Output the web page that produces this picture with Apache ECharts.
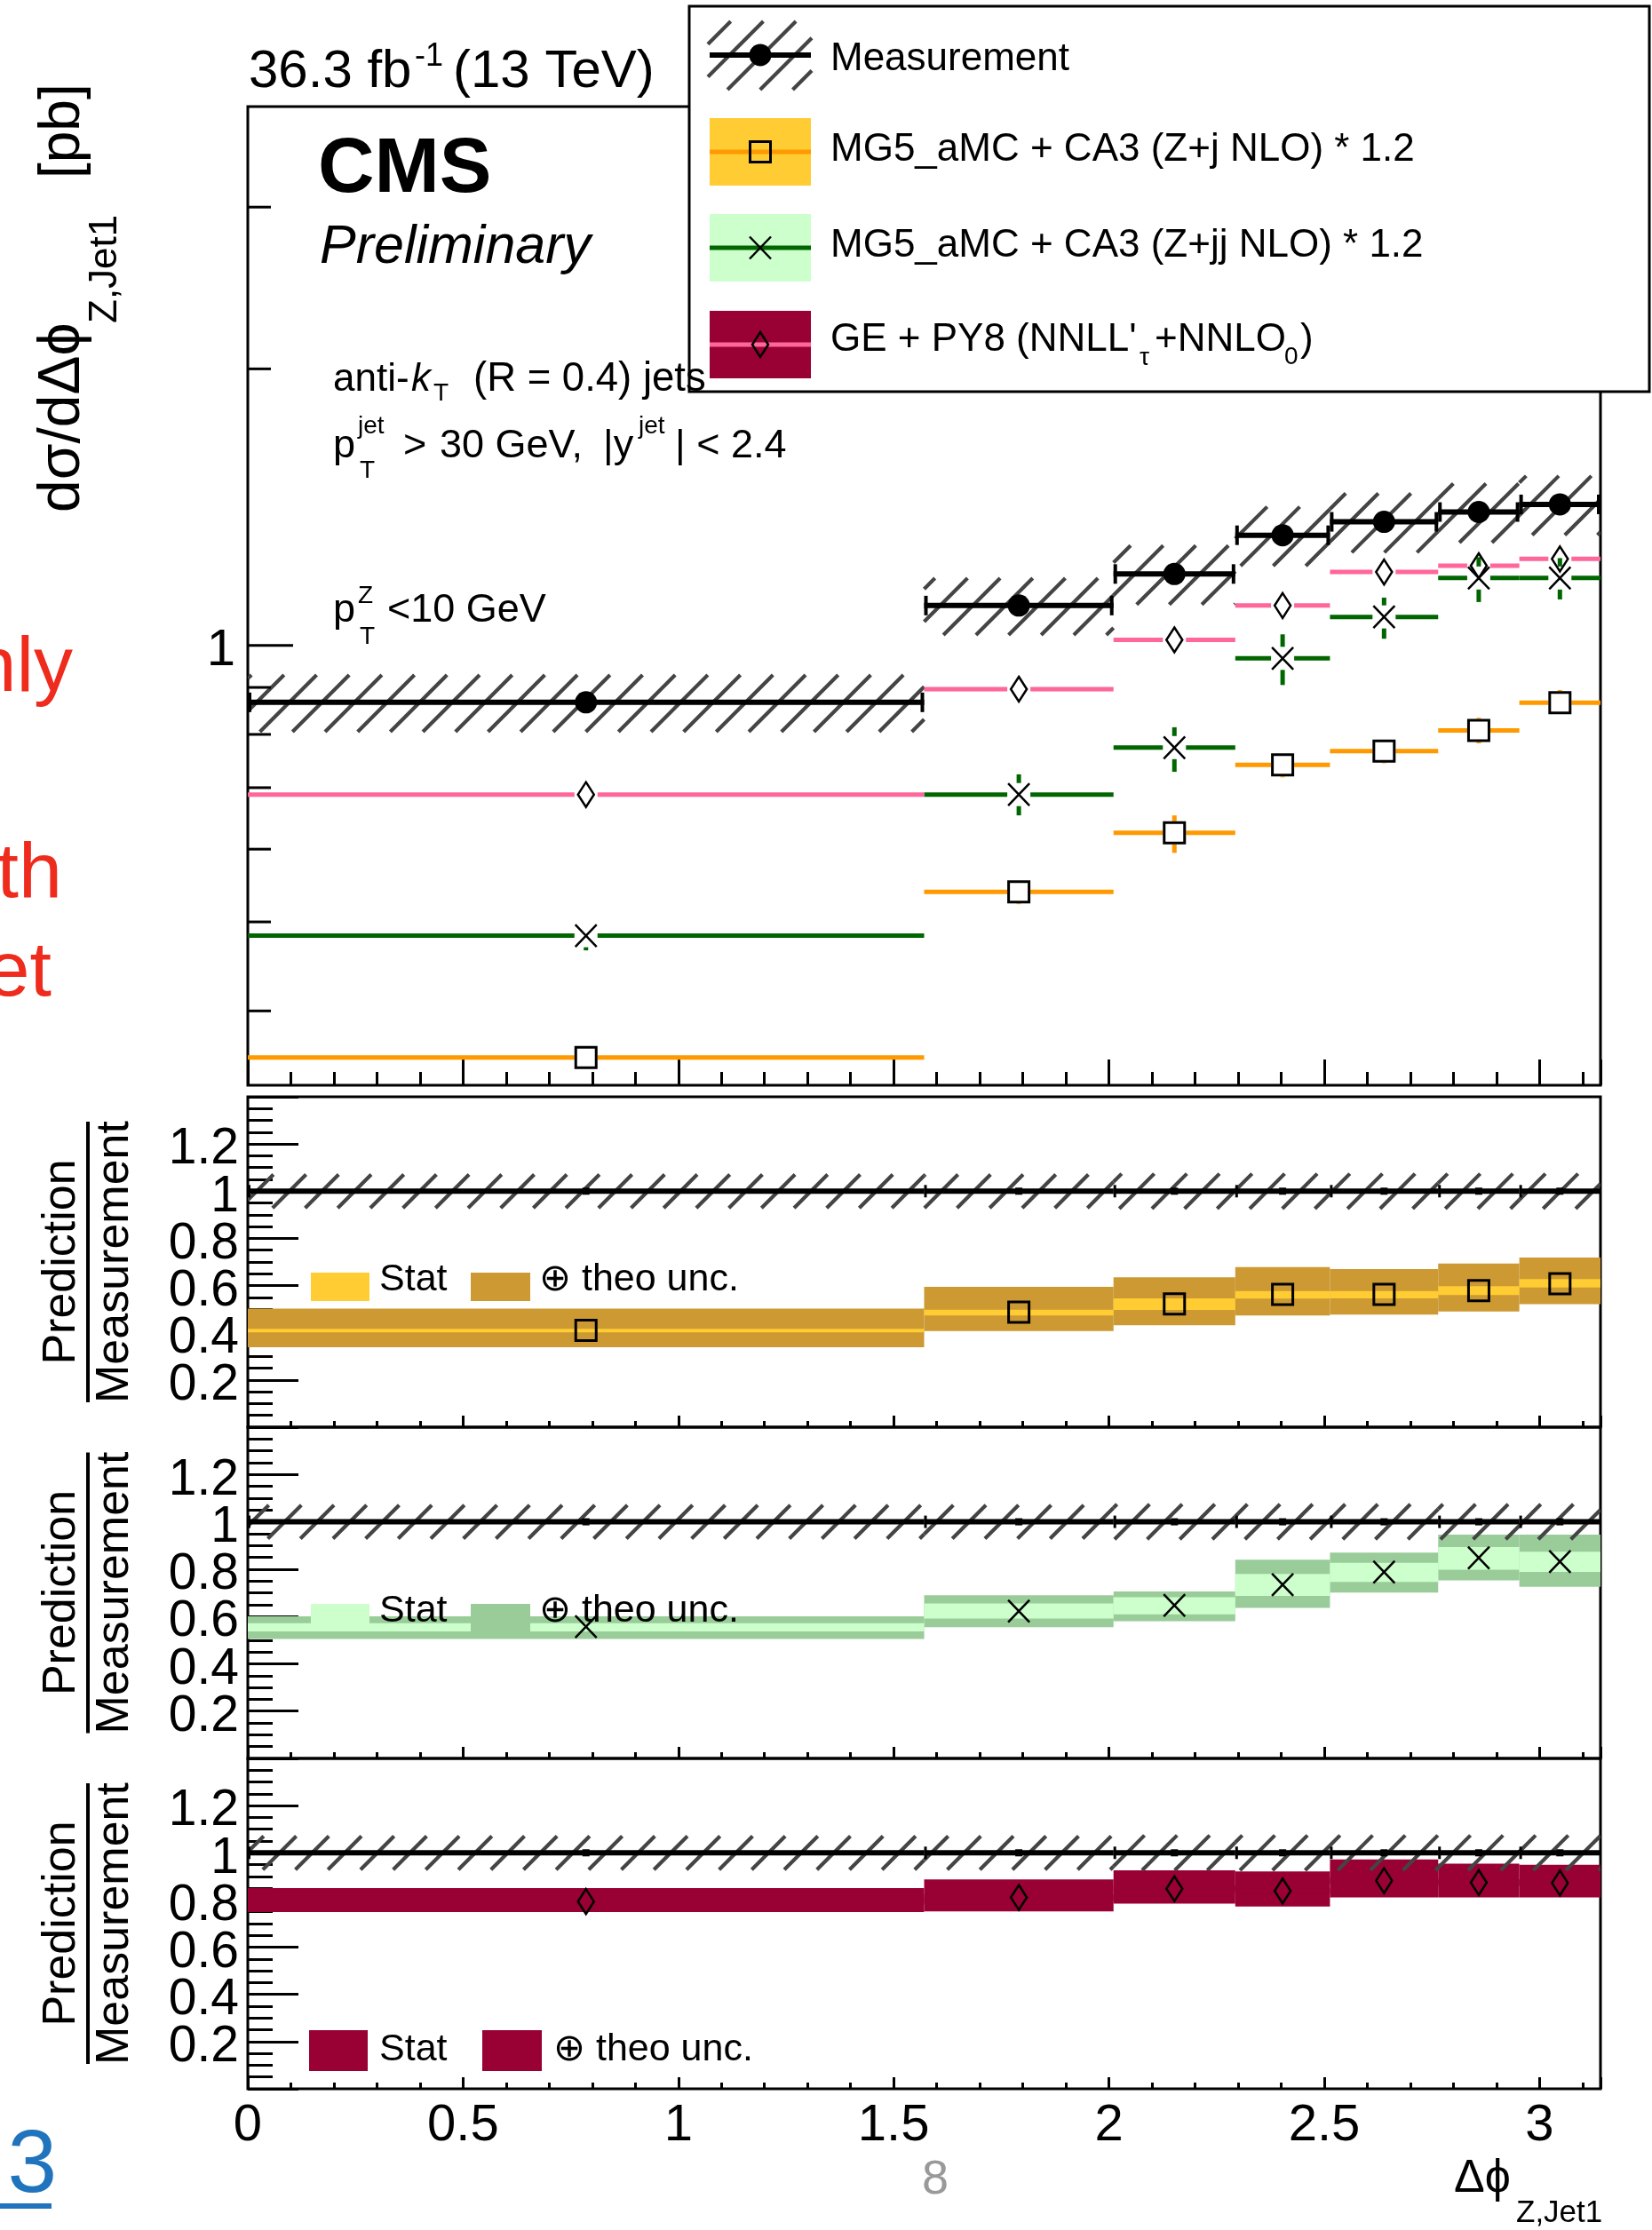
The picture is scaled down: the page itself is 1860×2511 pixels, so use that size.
<!DOCTYPE html>
<html>
<head>
<meta charset="utf-8">
<script src="https://cdn.jsdelivr.net/npm/echarts@6/dist/echarts.min.js"></script>
<style>
  html, body { margin: 0; padding: 0; background: #ffffff; }
  #chart { width: 1860px; height: 2511px; }
</style>
</head>
<body>
<div id="chart"></div>
<script>
// ---- Δφ(Z, leading jet) binning and cross sections [pb] ----
const binEdges = [0, 1.5708, 2.0106, 2.2934, 2.5133, 2.7646, 2.9531, 3.1416];
const measured       = [0.867, 1.105, 1.196, 1.318, 1.363, 1.397, 1.424];
const measuredRelUnc = [0.071, 0.071, 0.074, 0.074, 0.074, 0.074, 0.074];
const mgZj  = [0.356, 0.539, 0.625, 0.741, 0.767, 0.808, 0.866];
const mgZjj = [0.483, 0.688, 0.774, 0.968, 1.074, 1.184, 1.184];
const gePy8 = [0.688, 0.896, 1.014, 1.105, 1.202, 1.221, 1.242];

// ---- prediction / measurement uncertainty bands ----
const zjStatLo  = [0.402, 0.473, 0.497, 0.545, 0.546, 0.560, 0.592];
const zjStatHi  = [0.417, 0.498, 0.546, 0.577, 0.577, 0.597, 0.628];
const zjTotLo   = [0.339, 0.407, 0.432, 0.473, 0.477, 0.490, 0.521];
const zjTotHi   = [0.502, 0.595, 0.635, 0.678, 0.670, 0.693, 0.719];
const zjjStatLo = [0.537, 0.591, 0.609, 0.687, 0.746, 0.798, 0.788];
const zjjStatHi = [0.571, 0.655, 0.681, 0.780, 0.827, 0.893, 0.874];
const zjjTotLo  = [0.505, 0.555, 0.580, 0.636, 0.701, 0.753, 0.725];
const zjjTotHi  = [0.601, 0.690, 0.706, 0.840, 0.870, 0.946, 0.946];
const geStatLo  = [0.782, 0.797, 0.835, 0.826, 0.868, 0.861, 0.858];
const geStatHi  = [0.806, 0.825, 0.861, 0.850, 0.896, 0.887, 0.886];
const geTotLo   = [0.749, 0.752, 0.785, 0.772, 0.811, 0.811, 0.811];
const geTotHi   = [0.851, 0.887, 0.926, 0.921, 0.972, 0.954, 0.949];

// ---- axis ticks of the log-scale cross-section panel ----
const mainYMajorTicks = [1];
const mainYMinorTicks = [0.4, 0.5, 0.6, 0.7, 0.8, 0.9, 2, 3];

// ---------------------------------------------------------------
const FONT = "'Liberation Sans', Arial, Helvetica, sans-serif";
const HATCH_STYLE = { stroke: '#444444', lineWidth: 4.2, fill: 'none', lineCap: 'butt' };
const HATCH_STEP = 36.7;
const GAP = 13;

const COL = {
  zj:  { line: '#ff9900', stat: '#ffcc33', tot: '#cc9933' },
  zjj: { line: '#006600', stat: '#ccffcc', tot: '#99cc99' },
  ge:  { line: '#ff6699', stat: '#990033', tot: '#990033' }
};

const nBins = measured.length;
const bins = Array.from({ length: nBins }, (_, i) => i);

// "///" hatching inside a pixel rectangle (lines x + y = const)
function hatchLines(x0, y0, x1, y1, phase) {
  const out = [];
  const cmin = x0 + y0, cmax = x1 + y1;
  let c = phase + Math.ceil((cmin - phase) / HATCH_STEP) * HATCH_STEP;
  for (; c <= cmax; c += HATCH_STEP) {
    const xs = Math.max(x0, c - y1), xe = Math.min(x1, c - y0);
    if (xe - xs < 0.5) continue;
    out.push({ type: 'line', shape: { x1: xs, y1: c - xs, x2: xe, y2: c - xe }, style: HATCH_STYLE });
  }
  return out;
}

function markerEls(kind, cx, cy) {
  const k = { fill: 'none', stroke: '#000' };
  if (kind === 'square') {
    return [{ type: 'rect', shape: { x: cx - 11.5, y: cy - 11.5, width: 23, height: 23 }, style: Object.assign({ lineWidth: 3 }, k) }];
  }
  if (kind === 'cross') {
    return [
      { type: 'line', shape: { x1: cx - 12, y1: cy - 12.5, x2: cx + 12, y2: cy + 12.5 }, style: Object.assign({ lineWidth: 2.5 }, k) },
      { type: 'line', shape: { x1: cx - 12, y1: cy + 12.5, x2: cx + 12, y2: cy - 12.5 }, style: Object.assign({ lineWidth: 2.5 }, k) }
    ];
  }
  if (kind === 'diamond') {
    return [{ type: 'polygon', shape: { points: [[cx, cy - 14], [cx + 9, cy], [cx, cy + 14], [cx - 9, cy]] }, style: Object.assign({ lineWidth: 2.5 }, k) }];
  }
  if (kind === 'circle') {
    return [{ type: 'circle', shape: { cx: cx, cy: cy, r: 12.5 }, style: { fill: '#000', stroke: 'none' } }];
  }
  return [];
}

// prediction in the main panel: horizontal bin line, stat error bar, marker
function predRender(lineColor, marker) {
  return function (params, api) {
    const a = api.coord([api.value(0), api.value(2)]);
    const b = api.coord([api.value(1), api.value(2)]);
    const cx = (a[0] + b[0]) / 2, cy = a[1];
    const top = api.coord([api.value(0), api.value(4)])[1];
    const bot = api.coord([api.value(0), api.value(3)])[1];
    const ls = { stroke: lineColor, lineWidth: 5, fill: 'none' };
    const ch = [
      { type: 'line', shape: { x1: a[0], y1: cy, x2: cx - GAP, y2: cy }, style: ls },
      { type: 'line', shape: { x1: cx + GAP, y1: cy, x2: b[0], y2: cy }, style: ls }
    ];
    if (cy - top > GAP) ch.push({ type: 'line', shape: { x1: cx, y1: top, x2: cx, y2: cy - GAP }, style: ls });
    if (bot - cy > GAP) ch.push({ type: 'line', shape: { x1: cx, y1: cy + GAP, x2: cx, y2: bot }, style: ls });
    return { type: 'group', children: ch.concat(markerEls(marker, cx, cy)) };
  };
}

function hatchRender(params, api) {
  const p0 = api.coord([api.value(0), api.value(3)]);
  const p1 = api.coord([api.value(1), api.value(2)]);
  return { type: 'group', children: hatchLines(p0[0], p0[1], p1[0], p1[1], 15.5) };
}

function bandRender(color) {
  return function (params, api) {
    const p0 = api.coord([api.value(0), api.value(3)]);
    const p1 = api.coord([api.value(1), api.value(2)]);
    return { type: 'rect', shape: { x: p0[0], y: p0[1], width: p1[0] - p0[0], height: p1[1] - p0[1] }, style: { fill: color, stroke: 'none' } };
  };
}

function measuredRender(params, api) {
  const a = api.coord([api.value(0), api.value(2)]);
  const b = api.coord([api.value(1), api.value(2)]);
  const cy = a[1], cx = (a[0] + b[0]) / 2;
  const s = { stroke: '#000', lineWidth: 6, fill: 'none' };
  const c = { stroke: '#000', lineWidth: 4, fill: 'none' };
  return { type: 'group', children: [
    { type: 'line', shape: { x1: a[0], y1: cy, x2: b[0], y2: cy }, style: s },
    { type: 'line', shape: { x1: a[0] + 2, y1: cy - 11, x2: a[0] + 2, y2: cy + 11 }, style: c },
    { type: 'line', shape: { x1: b[0] - 2, y1: cy - 11, x2: b[0] - 2, y2: cy + 11 }, style: c }
  ].concat(markerEls('circle', cx, cy)) };
}

function unityRender(params, api) {
  const a = api.coord([api.value(0), api.value(2)]);
  const b = api.coord([api.value(1), api.value(2)]);
  const cy = a[1], cx = (a[0] + b[0]) / 2;
  return { type: 'group', children: [
    { type: 'line', shape: { x1: a[0], y1: cy, x2: b[0], y2: cy }, style: { stroke: '#000', lineWidth: 6, fill: 'none' } },
    { type: 'line', shape: { x1: a[0] + 1.5, y1: cy - 7, x2: a[0] + 1.5, y2: cy + 7 }, style: { stroke: '#000', lineWidth: 3, fill: 'none' } },
    { type: 'rect', shape: { x: cx - 4, y: cy - 4, width: 8, height: 8 }, style: { fill: '#000', stroke: 'none' } }
  ] };
}

function ratioMarkerRender(marker) {
  return function (params, api) {
    const a = api.coord([api.value(0), api.value(2)]);
    const b = api.coord([api.value(1), api.value(2)]);
    return { type: 'group', children: markerEls(marker, (a[0] + b[0]) / 2, a[1]) };
  };
}

function tickRender(len) {
  return function (params, api) {
    const c = api.coord([api.value(0), api.value(1)]);
    return { type: 'line', shape: { x1: c[0], y1: c[1], x2: c[0] + len, y2: c[1] }, style: { stroke: '#000', lineWidth: 3, fill: 'none' } };
  };
}

// ---- grids: log cross-section panel + three ratio panels ----
const gridBoxes = [
  { top: 120, height: 1102 },
  { top: 1235, height: 372 },
  { top: 1607, height: 373 },
  { top: 1980, height: 372 }
];
const grids = gridBoxes.map(g => ({
  left: 279, width: 1523, top: g.top, height: g.height,
  show: true, borderColor: '#000', borderWidth: 3, backgroundColor: 'transparent',
  outerBoundsMode: 'none', containLabel: false
}));

const xAxes = [];
gridBoxes.forEach((g, gi) => {
  const isMain = gi === 0, isLast = gi === gridBoxes.length - 1;
  xAxes.push({
    type: 'value', gridIndex: gi, position: 'bottom', min: binEdges[0], max: binEdges[nBins], interval: 0.5,
    axisLine: { show: false }, splitLine: { show: false },
    axisTick: { show: true, inside: true, length: isMain ? 29 : 13, lineStyle: { color: '#000', width: 3 } },
    axisLabel: {
      show: isLast, margin: 13, color: '#000', fontSize: 58, fontFamily: FONT,
      formatter: v => (Math.abs(v * 2 - Math.round(v * 2)) < 1e-6 ? String(Math.round(v * 2) / 2) : '')
    }
  });
  xAxes.push({
    type: 'value', gridIndex: gi, position: 'bottom', min: binEdges[0], max: binEdges[nBins], interval: 0.1,
    axisLine: { show: false }, splitLine: { show: false }, axisLabel: { show: false },
    axisTick: { show: true, inside: true, length: isMain ? 15 : 7, lineStyle: { color: '#000', width: 3 } }
  });
});

const yAxes = [{
  type: 'log', logBase: 10, gridIndex: 0, min: 0.332, max: 3.86,
  axisLine: { show: false }, axisTick: { show: false }, splitLine: { show: false },
  axisLabel: {
    margin: 14, color: '#000', fontSize: 58, fontFamily: FONT, verticalAlign: 'top', lineHeight: 13,
    formatter: v => (Math.abs(v - 1) < 1e-6 ? '1' : '')
  }
}];
for (let gi = 1; gi < 4; gi++) {
  yAxes.push({
    type: 'value', gridIndex: gi, min: 0, max: 1.4, interval: 0.2,
    axisLine: { show: false }, splitLine: { show: false },
    axisTick: { show: true, inside: true, length: 57, lineStyle: { color: '#000', width: 3 } },
    minorTick: { show: true, splitNumber: 4, length: 28, lineStyle: { color: '#000', width: 3 } },
    axisLabel: {
      margin: 10, color: '#000', fontSize: 57, fontFamily: FONT, verticalAlign: 'top', lineHeight: 13,
      formatter: v => (v < 0.05 || v > 1.35 ? '' : String(Math.round(v * 10) / 10))
    }
  });
}

// ---- series ----
const binPair = i => [binEdges[i], binEdges[i + 1]];
const series = [];

// measurement total uncertainty (hatched)
series.push({
  type: 'custom', name: 'meas-unc', xAxisIndex: 0, yAxisIndex: 0, clip: true,
  encode: { x: [0, 1], y: [2, 3] },
  data: bins.map(i => binPair(i).concat([measured[i] * (1 - measuredRelUnc[i]), measured[i] * (1 + measuredRelUnc[i])])),
  renderItem: hatchRender
});

const models = [
  { key: 'zj',  pred: mgZj,  statLo: zjStatLo,  statHi: zjStatHi,  totLo: zjTotLo,  totHi: zjTotHi,  marker: 'square' },
  { key: 'zjj', pred: mgZjj, statLo: zjjStatLo, statHi: zjjStatHi, totLo: zjjTotLo, totHi: zjjTotHi, marker: 'cross' },
  { key: 'ge',  pred: gePy8, statLo: geStatLo,  statHi: geStatHi,  totLo: geTotLo,  totHi: geTotHi,  marker: 'diamond' }
];

// predictions in the cross-section panel (error bar = statistical band)
models.forEach(m => {
  series.push({
    type: 'custom', name: m.key, xAxisIndex: 0, yAxisIndex: 0, clip: true,
    encode: { x: [0, 1], y: [2, 3, 4] },
    data: bins.map(i => {
      const r = m.pred[i] / measured[i];
      return binPair(i).concat([m.pred[i], m.pred[i] * m.statLo[i] / r, m.pred[i] * m.statHi[i] / r]);
    }),
    renderItem: predRender(COL[m.key].line, m.marker)
  });
});

// measurement points
series.push({
  type: 'custom', name: 'measurement', xAxisIndex: 0, yAxisIndex: 0, clip: true,
  encode: { x: [0, 1], y: 2 },
  data: bins.map(i => binPair(i).concat([measured[i]])),
  renderItem: measuredRender
});

// log-axis ticks
series.push({
  type: 'custom', xAxisIndex: 0, yAxisIndex: 0, clip: false, encode: { x: 0, y: 1 },
  data: mainYMinorTicks.map(v => [binEdges[0], v]), renderItem: tickRender(26)
});
series.push({
  type: 'custom', xAxisIndex: 0, yAxisIndex: 0, clip: false, encode: { x: 0, y: 1 },
  data: mainYMajorTicks.map(v => [binEdges[0], v]), renderItem: tickRender(51)
});

// ratio panels
models.forEach((m, k) => {
  const gi = k + 1, xi = 2 * gi;
  const base = { type: 'custom', xAxisIndex: xi, yAxisIndex: gi, clip: true };
  series.push(Object.assign({}, base, {
    encode: { x: [0, 1], y: [2, 3] },
    data: bins.map(i => binPair(i).concat([m.totLo[i], m.totHi[i]])),
    renderItem: bandRender(COL[m.key].tot)
  }));
  series.push(Object.assign({}, base, {
    encode: { x: [0, 1], y: [2, 3] },
    data: bins.map(i => binPair(i).concat([m.statLo[i], m.statHi[i]])),
    renderItem: bandRender(COL[m.key].stat)
  }));
  series.push(Object.assign({}, base, {
    encode: { x: [0, 1], y: [2, 3] },
    data: bins.map(i => binPair(i).concat([1 - measuredRelUnc[i], 1 + measuredRelUnc[i]])),
    renderItem: hatchRender
  }));
  series.push(Object.assign({}, base, {
    encode: { x: [0, 1], y: 2 },
    data: bins.map(i => binPair(i).concat([1])),
    renderItem: unityRender
  }));
  series.push(Object.assign({}, base, {
    encode: { x: [0, 1], y: 2 },
    data: bins.map(i => binPair(i).concat([m.pred[i] / measured[i]])),
    renderItem: ratioMarkerRender(m.marker)
  }));
});

// ---- text and legend graphics ----
function T(text, x, baseline, size, opt) {
  opt = opt || {};
  return {
    type: 'text', x: x, y: baseline - 0.35 * size, z: opt.z || 110,
    style: {
      text: text, fontSize: size, fontFamily: opt.family || FONT,
      fontWeight: opt.weight || 'normal', fontStyle: opt.style || 'normal',
      fill: opt.color || '#000', textAlign: opt.align || 'left',
      verticalAlign: 'middle', textVerticalAlign: 'middle'
    }
  };
}
// text reading bottom-to-top; baselineX is the screen x of the baseline
function TV(text, baselineX, y, size, align) {
  return {
    type: 'text', x: baselineX - 0.35 * size, y: y, rotation: Math.PI / 2, z: 110,
    style: {
      text: text, fontSize: size, fontFamily: FONT, fill: '#000',
      textAlign: align || 'left', verticalAlign: 'middle', textVerticalAlign: 'middle'
    }
  };
}
function R(x, y, w, h, fill, z) {
  return { type: 'rect', z: z || 100, shape: { x: x, y: y, width: w, height: h }, style: { fill: fill, stroke: 'none' } };
}
function shift(els, z) { return els.map(e => Object.assign({ z: z }, e)); }

const g = [];

// legend box
g.push({ type: 'rect', z: 100, shape: { x: 776, y: 7, width: 1081, height: 434 }, style: { fill: '#fff', stroke: '#000', lineWidth: 3 } });
// measurement entry
g.push.apply(g, shift(hatchLines(797, 24, 914, 101, 2.6), 101));
g.push({ type: 'line', z: 102, shape: { x1: 799, y1: 62, x2: 913, y2: 62 }, style: { stroke: '#000', lineWidth: 6 } });
g.push.apply(g, shift(markerEls('circle', 856, 62), 103));
// model entries
[
  { y: 133, key: 'zj', marker: 'square' },
  { y: 241, key: 'zjj', marker: 'cross' },
  { y: 350, key: 'ge', marker: 'diamond' }
].forEach(e => {
  g.push(R(799, e.y, 114, 76, COL[e.key].stat, 101));
  g.push({ type: 'line', z: 102, shape: { x1: 799, y1: e.y + 38, x2: 913, y2: e.y + 38 }, style: { stroke: COL[e.key].line, lineWidth: 5 } });
  g.push.apply(g, shift(markerEls(e.marker, 856, e.y + 38), 103));
});
g.push(T('Measurement', 935, 82, 44));
g.push(T('MG5_aMC + CA3 (Z+j NLO) * 1.2', 935, 184, 44));
g.push(T('MG5_aMC + CA3 (Z+jj NLO) * 1.2', 935, 292, 44));
g.push(T("GE + PY8 (NNLL'", 935, 398, 44));
g.push(T('τ', 1283, 413, 28));
g.push(T('+NNLO', 1300, 398, 44));
g.push(T('0', 1446, 412, 28));
g.push(T(')', 1464, 398, 44));

// header and annotations
g.push(T('36.3 fb', 280, 102, 60));
g.push(T('-1', 467, 77, 36));
g.push(T('(13 TeV)', 510, 102, 60));
g.push(T('CMS', 358, 223, 88, { weight: 'bold' }));
g.push(T('Preliminary', 360, 300, 61, { style: 'italic' }));

g.push(T('anti-', 375, 443, 44));
g.push(T('k', 463, 443, 44, { style: 'italic' }));
g.push(T('T', 488, 453, 28));
g.push(T('(R = 0.4) jets', 533, 443, 45.5));

g.push(T('p', 375, 518, 45));
g.push(T('jet', 403, 490, 28));
g.push(T('T', 405, 540, 28));
g.push(T('>', 454, 518, 45));
g.push(T('30 GeV,', 495, 518, 45));
g.push(T('|y', 679, 518, 45));
g.push(T('jet', 719, 490, 28));
g.push(T('| < 2.4', 760, 518, 45));

g.push(T('p', 375, 703, 45));
g.push(T('Z', 403, 681, 28));
g.push(T('T', 405, 727, 28));
g.push(T('<10 GeV', 436, 703, 45));

// y-axis title of the cross-section panel
g.push(TV('dσ/dΔϕ', 94, 577, 66));
g.push(TV('Z,Jet1', 134, 364, 44));
g.push(TV('[pb]', 94, 201, 64));

// ratio panel titles and legends
const ratioLegend = [
  { key: 'zj',  sy: 1433, sh: 32, base: 1456, s1: 350, s2: 530, tx: 607 },
  { key: 'zjj', sy: 1806, sh: 31, base: 1829, s1: 350, s2: 530, tx: 607 },
  { key: 'ge',  sy: 2286, sh: 46, base: 2323, s1: 348, s2: 543, tx: 623 }
];
gridBoxes.slice(1).forEach((b, k) => {
  const yc = b.top + b.height / 2;
  g.push(TV('Prediction', 88, yc, 52, 'center'));
  g.push(R(97, yc - 158, 4, 316, '#000', 110));
  g.push(TV('Measurement', 148, yc, 52, 'center'));
  const L = ratioLegend[k];
  g.push(R(L.s1, L.sy, 66, L.sh, COL[L.key].stat, 105));
  g.push(R(L.s2, L.sy, 67, L.sh, COL[L.key].tot, 105));
  g.push(T('Stat', 427, L.base, 43));
  g.push(T('⊕ theo unc.', L.tx, L.base, 43));
});

// x-axis title
g.push(T('Δϕ', 1637, 2472, 52));
g.push(T('Z,Jet1', 1707, 2505, 35));

// slide remnants around the figure
const RED = '#ee2b1c';
g.push(T('nly', 82, 785, 88, { color: RED, align: 'right' }));
g.push(T('th', 70, 1017, 88, { color: RED, align: 'right' }));
g.push(T('et', 58, 1128, 88, { color: RED, align: 'right' }));
g.push(T('3', 64, 2475, 100, { color: '#1f74bd', align: 'right' }));
g.push(R(0, 2481, 58, 6, '#1f74bd', 110));
g.push(T('8', 1053, 2474, 54, { color: '#999999', align: 'center' }));

const chart = echarts.init(document.getElementById('chart'), null, { renderer: 'canvas' });
chart.setOption({
  animation: false,
  backgroundColor: '#ffffff',
  grid: grids,
  xAxis: xAxes,
  yAxis: yAxes,
  series: series,
  graphic: { elements: g }
});
</script>
</body>
</html>
